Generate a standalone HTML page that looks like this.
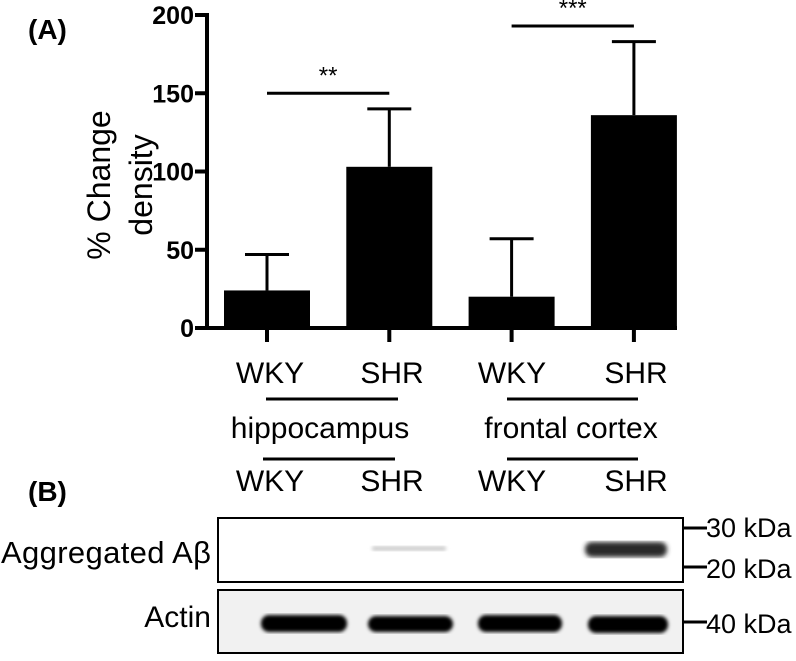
<!DOCTYPE html>
<html><head><meta charset="utf-8"><style>
body{margin:0;background:#fff;}
svg{display:block;font-family:"Liberation Sans",sans-serif;}
</style></head><body>
<svg id="fig" width="796" height="661" viewBox="0 0 796 661">
<defs>
<filter id="blur2"><feGaussianBlur stdDeviation="1.8"/></filter>
<filter id="blur3"><feGaussianBlur stdDeviation="2.5"/></filter>
</defs>
<text x="28" y="39" font-size="28" font-weight="bold">(A)</text>
<text x="28" y="501" font-size="28" font-weight="bold">(B)</text>
<g transform="translate(110,185) rotate(-90)">
<text x="0" y="0" font-size="32" text-anchor="middle">% Change</text>
<text x="0" y="42" font-size="32" text-anchor="middle">density</text>
</g>
<g id="chart"></g>
<g font-size="30" text-anchor="middle">
<text x="270" y="383">WKY</text><text x="392" y="383">SHR</text>
<text x="512" y="383">WKY</text><text x="636" y="383">SHR</text>
<line x1="266" y1="399" x2="398" y2="399" stroke="#000" stroke-width="3"/>
<line x1="507" y1="399" x2="638" y2="399" stroke="#000" stroke-width="3"/>
<text x="320" y="438">hippocampus</text>
<text x="571" y="438">frontal cortex</text>
<line x1="263" y1="459" x2="395" y2="459" stroke="#000" stroke-width="3"/>
<line x1="507" y1="459" x2="638" y2="459" stroke="#000" stroke-width="3"/>
<text x="270" y="491">WKY</text><text x="392" y="491">SHR</text>
<text x="512" y="491">WKY</text><text x="636" y="491">SHR</text>
</g>
<g>
<text x="211" y="563" font-size="31" text-anchor="end" textLength="210">Aggregated Aβ</text>
<text x="211" y="627" font-size="30" text-anchor="end">Actin</text>
<rect x="218" y="518" width="465" height="64" fill="#fff" stroke="#000" stroke-width="2"/>
<rect x="218" y="590" width="465" height="63" fill="#f1f1f1" stroke="#000" stroke-width="2"/>
<rect x="372" y="546" width="74" height="5" rx="2" fill="#cfcfcf" filter="url(#blur2)"/>
<rect x="585" y="542" width="82" height="15" rx="7" fill="#2a2a2a" filter="url(#blur3)"/>
<rect x="261" y="615" width="86" height="17" rx="8" fill="#000" filter="url(#blur2)"/>
<rect x="368" y="616" width="85" height="16" rx="8" fill="#000" filter="url(#blur2)"/>
<rect x="478" y="615" width="84" height="17" rx="8" fill="#000" filter="url(#blur2)"/>
<rect x="588" y="616" width="80" height="17" rx="8" fill="#000" filter="url(#blur2)"/>
<g stroke="#000" stroke-width="3">
<line x1="683" y1="528" x2="707" y2="528"/><line x1="683" y1="567" x2="707" y2="567"/><line x1="683" y1="622" x2="707" y2="622"/>
</g>
<g font-size="27">
<text x="706" y="537">30 kDa</text>
<text x="706" y="578">20 kDa</text>
<text x="706" y="633">40 kDa</text>
</g>
</g>
</svg>
<script>
const categories = ["WKY hippocampus","SHR hippocampus","WKY frontal cortex","SHR frontal cortex"];
const means = [24, 103, 20, 136];
const errors = [23, 37, 37, 47];
const yTicks = [0, 50, 100, 150, 200];
const sigLabels = ["**", "***"];
const sigHeights = [150, 193];

const NS = "http://www.w3.org/2000/svg";
const g = document.getElementById("chart");
const y0 = 328, yTop = 15, axisX = 207;
const yScale = v => y0 - (v / 200) * (y0 - yTop);
const xCenter = i => 267 + i * 122.3;
const barW = 86;
function mk(tag, attrs){const e=document.createElementNS(NS,tag);for(const k in attrs)e.setAttribute(k,attrs[k]);g.appendChild(e);return e;}

categories.forEach((c,i)=>{
  const cx = xCenter(i), top = yScale(means[i]), et = yScale(means[i]+errors[i]);
  const el = mk("line",{x1:cx,y1:top,x2:cx,y2:et,stroke:"#000","stroke-width":3});
  
  
  const cap = mk("line",{x1:cx-22,y1:et,x2:cx+22,y2:et,stroke:"#000","stroke-width":3});
  
  
  const b = mk("rect",{x:cx-barW/2,y:top,width:barW,height:y0-top,fill:"#000"});
  
  
  const t = mk("line",{x1:cx,y1:y0,x2:cx,y2:y0+14,stroke:"#000","stroke-width":4});
  
  
});
const ax = mk("line",{x1:axisX,y1:yTop-2,x2:axisX,y2:y0+2,stroke:"#000","stroke-width":4});


const xa = mk("line",{x1:axisX-2,y1:y0,x2:677,y2:y0,stroke:"#000","stroke-width":4});


yTicks.forEach(v=>{
  const y = yScale(v);
  const l = mk("line",{x1:axisX-12,y1:y,x2:axisX,y2:y,stroke:"#000","stroke-width":4});
  
  
  const t = mk("text",{x:axisX-13,y:y+9,"font-size":25,"font-weight":"bold","text-anchor":"end"});
  t.textContent = v;
  
  
});
sigLabels.forEach((s,k)=>{
  const x1 = xCenter(2*k), x2 = xCenter(2*k+1), y = yScale(sigHeights[k]);
  const l = mk("line",{x1:x1,y1:y,x2:x2,y2:y,stroke:"#000","stroke-width":3});
  
  
  const t = mk("text",{x:(x1+x2)/2,y:y-10,"font-size":24,"text-anchor":"middle"});
  t.textContent = s;
  
  
});
</script>
</body></html>
